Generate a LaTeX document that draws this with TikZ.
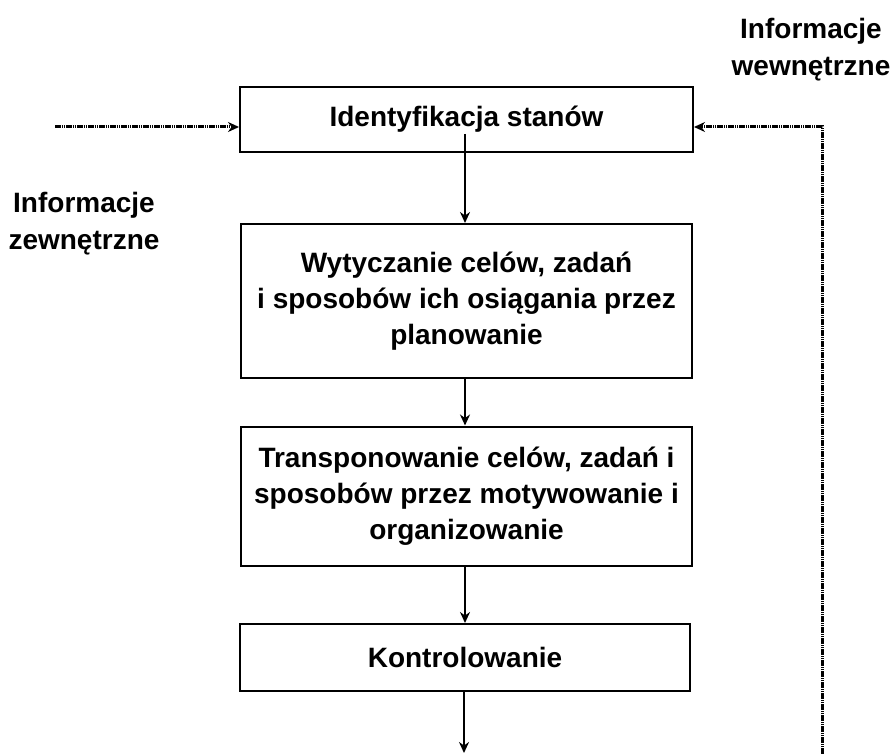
\documentclass[tikz,border=0pt]{standalone}
\usepackage{fontspec}
\setmainfont{Liberation Sans}
\usetikzlibrary{arrows.meta}
\begin{document}
\begin{tikzpicture}[x=1pt,y=-1pt,
  box/.style={draw=black, line width=2pt, fill=white, inner sep=0pt, align=center,
    font=\fontsize{28}{36}\selectfont\bfseries},
  lbl/.style={align=center, inner sep=0pt, font=\fontsize{28}{37}\selectfont\bfseries},
  conn/.style={line width=2.4pt, -{Stealth[length=11pt,width=10pt]}},
  fbk/.style={line width=3pt, dash pattern=on 1.6pt off 0.6pt, -{Stealth[length=11pt,width=10pt]}}]
\useasboundingbox (0,0) rectangle (891,754);
\node[box, minimum width=453pt, minimum height=65pt] (b1) at (466.5,119.5) {Identyfikacja stanów};
\node[box, minimum width=451pt, minimum height=154pt] (b2) at (466.5,301) {Wytyczanie celów, zadań\\ i sposobów ich osiągania przez\\ planowanie};
\node[box, minimum width=451pt, minimum height=139pt] (b3) at (466.5,496) {Transponowanie celów, zadań i\\ sposobów przez motywowanie i\\ organizowanie};
\node[box, minimum width=450pt, minimum height=67pt] (b4) at (465,657.5) {Kontrolowanie};
\node[lbl] (ext) at (84,224) {Informacje\\ zewnętrzne};
\node[lbl] (int) at (811,50) {Informacje\\ wewnętrzne};
\coordinate (s1) at (465,134);
\coordinate (in) at (55,127);
\coordinate (fbb) at (822,754);
\coordinate (fbt) at (822,127);
\coordinate (out) at (464,753);
\draw[conn] (s1) -- (s1 |- b2.north);
\draw[conn] (b2.south -| s1) -- (b3.north -| s1);
\draw[conn] (b3.south -| s1) -- (b4.north -| s1);
\draw[conn] (b4.south -| out) -- (out);
\draw[fbk] (in) -- (in -| b1.west);
\draw[fbk] (fbb) -- (fbt) -- (fbt -| b1.east);
\end{tikzpicture}
\end{document}
